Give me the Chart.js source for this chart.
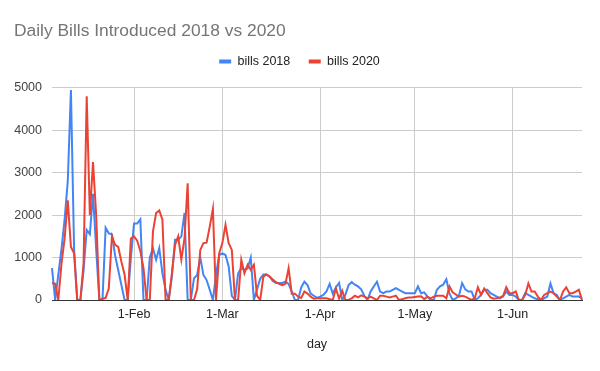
<!DOCTYPE html>
<html>
<head>
<meta charset="utf-8">
<script src="https://cdn.jsdelivr.net/npm/chart.js@4/dist/chart.umd.min.js"></script>
<style>
  body { margin: 0; background: #fff; }
</style>
</head>
<body>
<canvas id="chart" width="600" height="371"></canvas>
<script>
const bills2018 = [
  750, 0, 600, 1200, 1900, 2800, 4950, 1200, 0, 0,
  700, 1650, 1550, 2500, 1200, 0, 0, 1700, 1570, 1550,
  1050, 700, 350, 0, 0, 1000, 1800, 1800, 1900, 0,
  0, 1000, 1220, 950, 1220, 630, 240, 0, 550, 1420,
  1420, 1500, 2050, 0, 0, 510, 590, 1000, 590, 470,
  240, 0, 600, 1060, 1100, 1060, 790, 100, 0, 630,
  750, 710, 740, 1000, 0, 250, 500, 600, 600, 550,
  450, 400, 400, 400, 430, 380, 200, 0, 0, 300,
  430, 350, 150, 100, 50, 80, 120, 200, 380, 150,
  300, 400, 0, 120, 350, 420, 360, 320, 250, 100,
  0, 200, 320, 430, 200, 160, 200, 200, 240, 280,
  240, 200, 160, 160, 160, 160, 320, 160, 180, 80,
  0, 0, 240, 320, 360, 490, 150, 0, 40, 100,
  400, 250, 200, 200, 0, 40, 120, 240, 240, 160,
  120, 80, 40, 80, 200, 120, 120, 80, 0, 0,
  160, 120, 80, 40, 20, 0, 40, 80, 390, 160,
  120, 0, 40, 80, 120, 80, 80, 80, 40
]

const bills2020 = [
  400, 380, 0, 850, 1450, 2350, 1250, 1100, 0, 0,
  850, 4800, 2000, 3250, 2000, 0, 30, 50, 270, 1500,
  1300, 1250, 900, 600, 0, 1450, 1500, 1400, 1150, 750,
  0, 0, 1610, 2050, 2110, 1890, 0, 0, 630, 1300,
  1500, 950, 1450, 2750, 0, 0, 250, 1180, 1340, 1350,
  1730, 2150, 0, 1100, 1340, 1770, 1340, 1180, 0, 0,
  950, 630, 830, 710, 830, 100, 0, 550, 600, 550,
  480, 420, 380, 350, 380, 750, 150, 150, 80, 50,
  200, 150, 80, 30, 40, 40, 40, 40, 20, 0,
  270, 30, 220, 0, 0, 40, 100, 60, 110, 80,
  40, 80, 40, 0, 100, 100, 80, 60, 80, 100,
  0, 20, 40, 60, 60, 70, 80, 90, 20, 80,
  40, 80, 100, 100, 100, 40, 320, 180, 130, 80,
  100, 80, 40, 0, 40, 300, 120, 270, 160, 60,
  30, 40, 60, 100, 300, 160, 160, 200, 0, 0,
  120, 390, 200, 200, 80, 0, 120, 160, 200, 160,
  80, 0, 200, 300, 160, 160, 200, 240, 0
]

const monthNames = ['Jan', 'Feb', 'Mar', 'Apr', 'May', 'Jun']
const yTicks = [0, 1000, 2000, 3000, 4000, 5000]

// one label per day, starting 6 Jan
const days = []
for (let i = 0; i < bills2018.length; i++) {
  const d = new Date(2018, 0, 6 + i)
  days.push(d.getDate() + '-' + monthNames[d.getMonth()])
}

const fontFamily = "'Liberation Sans', Arial, sans-serif"

new Chart(document.getElementById('chart'), {
  type: 'line',
  data: {
    labels: days,
    datasets: [
      {
        label: 'bills 2018',
        data: bills2018,
        borderColor: '#4285f4',
        backgroundColor: '#4285f4',
        borderWidth: 2,
        pointRadius: 0,
        order: 1
      },
      {
        label: 'bills 2020',
        data: bills2020,
        borderColor: '#ea4335',
        backgroundColor: '#ea4335',
        borderWidth: 2,
        pointRadius: 0,
        order: 0
      }
    ]
  },
  options: {
    responsive: false,
    animation: false,
    devicePixelRatio: 1,
    layout: { padding: { top: 0, right: 15, bottom: 0, left: 14 } },
    plugins: {
      title: {
        display: true,
        text: 'Daily Bills Introduced 2018 vs 2020',
        align: 'start',
        color: '#757575',
        font: { family: fontFamily, size: 17.4, weight: 'normal', lineHeight: 0.6 },
        padding: { top: 25.6, bottom: 0.75 }
      },
      // empty spacer between legend and plot
      subtitle: {
        display: true,
        text: '',
        weight: 500,
        font: { size: 8, lineHeight: 1.25 },
        padding: 0
      },
      legend: {
        display: true,
        position: 'top',
        labels: {
          color: '#222',
          font: { family: fontFamily, size: 12.5 },
          boxWidth: 12,
          boxHeight: 4,
          padding: 18.5,
          sort: (a, b) => a.datasetIndex - b.datasetIndex,
          generateLabels(chart) {
            const items = Chart.defaults.plugins.legend.labels.generateLabels(chart)
            items.forEach(item => { item.lineWidth = 0 })
            return items
          }
        }
      },
      tooltip: { enabled: false }
    },
    scales: {
      x: {
        type: 'category',
        afterBuildTicks(scale) {
          scale.ticks = scale.ticks.filter(t => days[t.value].startsWith('1-'))
        },
        afterFit(scale) {
          scale.height = 71
        },
        ticks: {
          autoSkip: false,
          maxRotation: 0,
          padding: 7,
          color: '#222',
          font: { family: fontFamily, size: 12.5 }
        },
        grid: {
          color: '#cccccc',
          drawTicks: false
        },
        border: { display: true, color: '#333333', width: 1 },
        title: {
          display: true,
          text: 'day',
          color: '#222',
          font: { family: fontFamily, size: 12.5, lineHeight: 1.2 },
          padding: { top: 0, bottom: 18.5 }
        }
      },
      y: {
        min: 0,
        max: 5000,
        afterBuildTicks(scale) {
          scale.ticks = yTicks.map(v => ({ value: v }))
        },
        afterFit(scale) {
          scale.width = 38
        },
        ticks: {
          padding: 10,
          color: '#444',
          font: { family: fontFamily, size: 12.5 },
          callback: v => String(v)
        },
        grid: {
          color: '#cccccc',
          drawTicks: false
        },
        border: { display: false }
      },
      // blank right-hand strip so the plot ends where the reference does
      yRight: {
        position: 'right',
        display: true,
        afterFit(scale) {
          scale.width = 3
        },
        ticks: { display: false },
        grid: { display: false },
        border: { display: false }
      }
    }
  }
})
</script>
</body>
</html>
